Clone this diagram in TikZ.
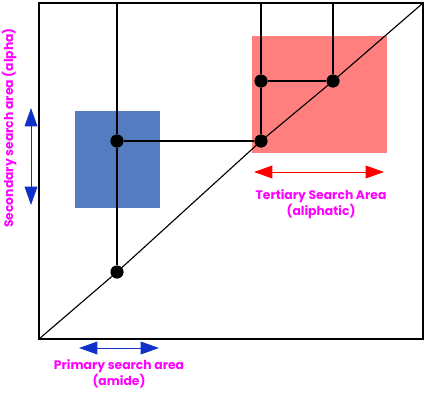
\documentclass[tikz,border=0pt]{standalone}
\usepackage{fontspec}
\setmainfont{Poppins}
\usepackage{tikz}
\usetikzlibrary{arrows.meta}
\definecolor{bluebox}{RGB}{84,124,192}
\definecolor{redbox}{RGB}{255,127,127}
\definecolor{bluex}{RGB}{16,48,200}
\definecolor{redx}{RGB}{255,0,0}
\definecolor{magx}{RGB}{255,0,255}
\tikzset{
  dot/.style={circle,fill=black,minimum size=3.3mm,inner sep=0pt},
  ln/.style={line width=0.8pt,black},
  arb/.style={{Triangle[length=4.6mm,width=3.2mm]}-{Triangle[length=4.6mm,width=3.2mm]},line width=0.7pt,bluex},
  arr/.style={{Triangle[length=4.6mm,width=3.2mm]}-{Triangle[length=4.6mm,width=3.2mm]},line width=0.7pt,redx},
  lab/.style={font=\fontsize{8.8}{10}\selectfont\bfseries,magx,align=center,inner sep=0pt}
}
\begin{document}
\begin{tikzpicture}[x=0.25mm,y=-0.25mm]
\useasboundingbox (0,0) rectangle (436,393);
% shaded areas
\fill[bluebox] (75,111) rectangle (160,208);
\fill[redbox] (252,36) rectangle (387,153);
% frame and diagonal
\draw[ln] (39,3) rectangle (423,339);
\coordinate (o) at (39,339);
\coordinate (c) at (423,3);
\foreach \xx/\l in {117/1,261/2,333/3}{\coordinate (t\l) at (\xx,3);}
\node[dot] (p1) at (117,272) {};
\node[dot] (p2) at (117,141) {};
\node[dot] (p3) at (261,141) {};
\node[dot] (p4) at (261,81) {};
\node[dot] (p5) at (333,81) {};
\draw[ln] (o) -- (p1) -- (p3) -- (p5) -- (c);
\draw[ln] (t1) -- (p2) -- (p1);
\draw[ln] (p2) -- (p3);
\draw[ln] (t2) -- (p4) -- (p3);
\draw[ln] (p4) -- (p5);
\draw[ln] (t3) -- (p5);
% search areas
\coordinate (s1) at (31,108);
\coordinate (s2) at (31,205);
\draw[arb] (s1) -- (s2);
\node[lab,rotate=90] (sec) at (9,128) {Secondary search area (alpha)};
\coordinate (q1) at (79,348);
\coordinate (q2) at (159,348);
\draw[arb] (q1) -- (q2);
\node[lab] (pri) at (119,374) {Primary search area\\(amide)};
\coordinate (r1) at (254,172);
\coordinate (r2) at (384,172);
\draw[arr] (r1) -- (r2);
\node[lab] (ter) at (321,204) {Tertiary Search Area\\(aliphatic)};
\end{tikzpicture}
\end{document}
